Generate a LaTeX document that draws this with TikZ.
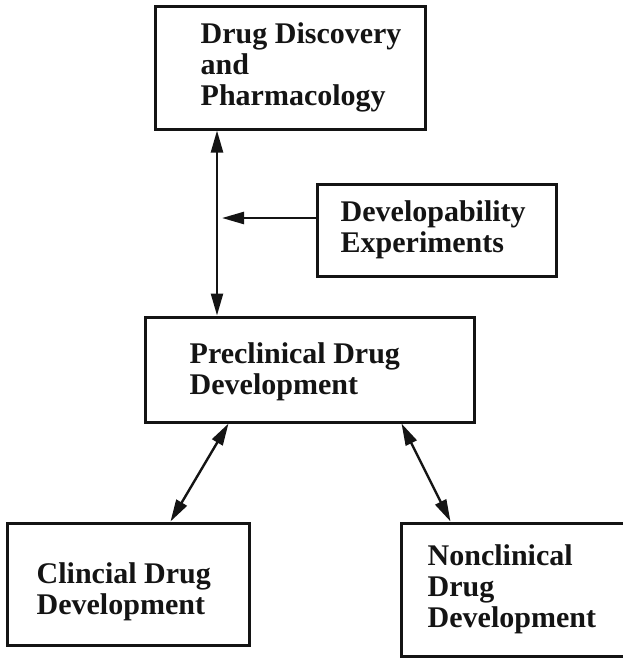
\documentclass[tikz,border=0pt]{standalone}
\usepackage{fontspec}
\setmainfont{Liberation Serif}
\usepackage{tikz}
\usetikzlibrary{arrows.meta, positioning, calc}
\definecolor{inkcolor}{RGB}{20, 20, 20}

\begin{document}
\begin{tikzpicture}[x=1pt, y=1pt,
    box/.style={draw=inkcolor, line width=3pt, inner sep=0pt},
    boxtext/.style={align=left, inner sep=0pt, text=inkcolor, font=\fontsize{30pt}{31pt}\selectfont\bfseries},
    arrow/.style={-{Triangle[length=22pt, width=12pt]}, line width=2.4pt, inkcolor},
    dblarrow/.style={{Triangle[length=22pt, width=12pt]}-{Triangle[length=22pt, width=12pt]}, line width=2.4pt, inkcolor}
    ]
    \useasboundingbox (0,0) rectangle (622,-659);

    % Boxes
    \node[box, minimum width=270pt, minimum height=123pt] (disc) at (290,-67.5) {};
    \node[boxtext, right=47pt of disc.west] (disctext) {Drug Discovery\\and\\Pharmacology};

    \node[box, minimum width=239pt, minimum height=92pt] (devexp) at (436.5,-230) {};
    \node[boxtext, right=25pt of devexp.west] (devexptext) {Developability\\Experiments};

    \node[box, minimum width=329pt, minimum height=105pt] (precl) at (309.5,-369.5) {};
    \node[boxtext, right=46pt of precl.west, yshift=-2pt] (precltext) {Preclinical Drug\\Development};

    \node[box, minimum width=242pt, minimum height=122pt] (clin) at (128,-584) {};
    \node[boxtext, right=31pt of clin.west, yshift=-8pt] (clintext) {Clincial Drug\\Development};

    \node[box, minimum width=227pt, minimum height=133pt] (nonclin) at (514.5,-589.5) {};
    \node[boxtext, right=28pt of nonclin.west] (nonclintext) {Nonclinical\\Drug\\Development};

    % Arrows
    \coordinate (axis) at (217,0);
    \draw[dblarrow] (disc.south -| axis) -- (precl.north -| axis);
    \draw[arrow, shorten >=5pt] ([yshift=12pt]devexp.west) -- ([yshift=12pt]devexp.west -| axis);
    \draw[dblarrow] ($(precl.south west)+(85,0)$) -- ($(clin.north west)+(165,0)$);
    \draw[dblarrow] ($(precl.south east)+(-74,0)$) -- ($(nonclin.north west)+(51,0)$);
  \end{tikzpicture}
\end{document}
